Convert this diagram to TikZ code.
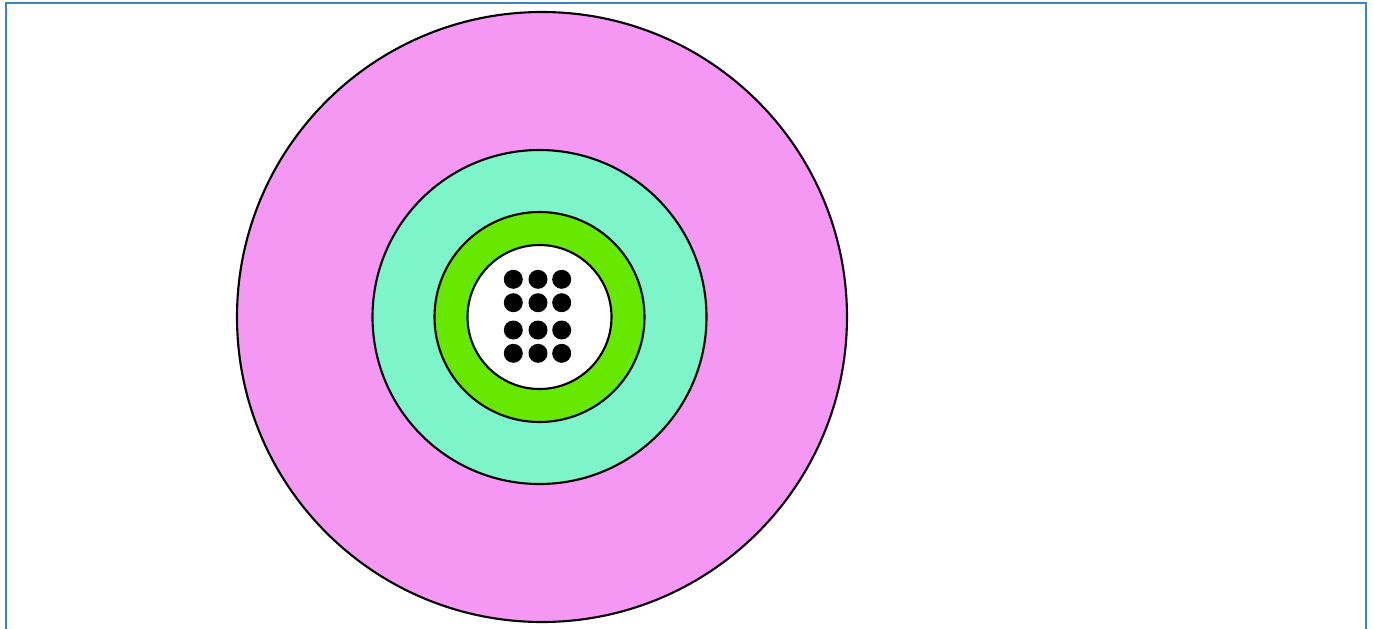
\documentclass[tikz,border=0pt]{standalone}
\usepackage{tikz}
\definecolor{frameblue}{RGB}{60,132,196}
\definecolor{ringpink}{RGB}{245,152,243}
\definecolor{ringmint}{RGB}{126,244,202}
\definecolor{ringgreen}{RGB}{102,232,0}
\tikzset{
  ring/.style={draw=black, line width=0.6pt},
  core/.style={fill=black},
}
\begin{document}
\begin{tikzpicture}
  \useasboundingbox (0,0) rectangle (13.73,6.28);
  % Frame
  \draw[frameblue, line width=0.8pt] (0.06,-0.2) -- (0.06,6.25) -- (13.66,6.25) -- (13.66,-0.2);

  % Rings
  \coordinate (outer) at (5.42,3.11);
  \coordinate (inner) at (5.395,3.11);
  \draw[ring, fill=ringpink] (outer) circle (3.05);
  \draw[ring, fill=ringmint] (inner) circle (1.67);
  \draw[ring, fill=ringgreen] (inner) circle (1.05);
  \draw[ring, fill=white] (inner) circle (0.72);

  % Cores
  \foreach \x in {5.133,5.38,5.617}
    \foreach \y in {3.487,3.253,2.98,2.747}
      \fill[core] (\x,\y) circle (0.095);
\end{tikzpicture}
\end{document}
